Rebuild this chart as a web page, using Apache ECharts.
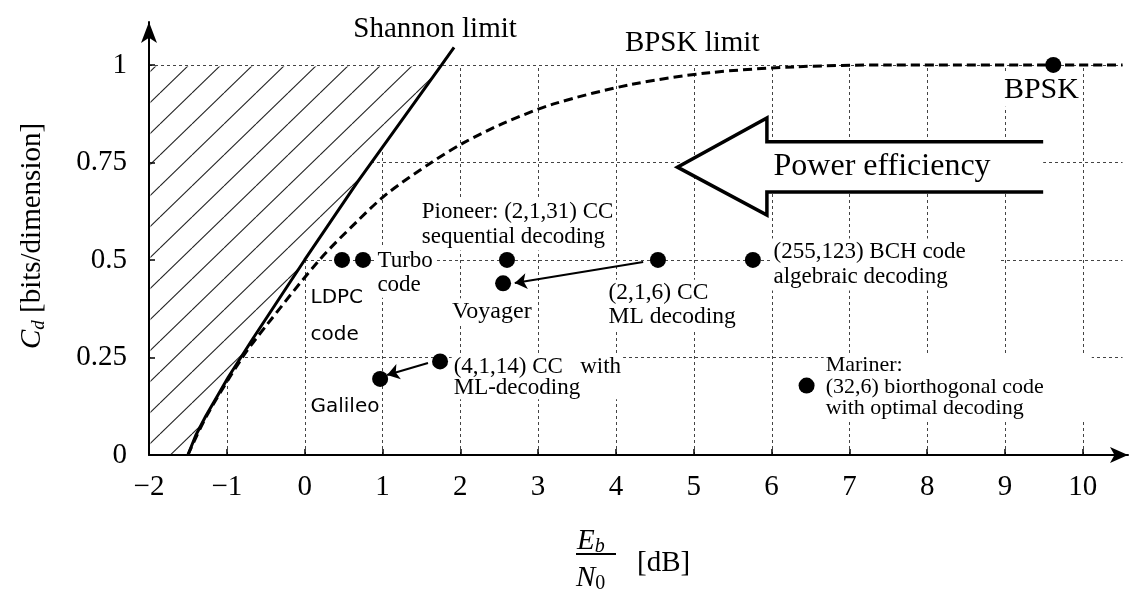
<!DOCTYPE html>
<html>
<head>
<meta charset="utf-8">
<script src="https://cdn.jsdelivr.net/npm/echarts@6/dist/echarts.min.js"></script>
<style>html,body{margin:0;padding:0;background:#fff}#c{width:1138px;height:591px}</style>
</head>
<body>
<div id="c"></div>
<script>
// ---------- data ----------
const xTicks = [-2, -1, 0, 1, 2, 3, 4, 5, 6, 7, 8, 9, 10];
const xTickLabels = ['\u22122', '\u22121', '0', '1', '2', '3', '4', '5', '6', '7', '8', '9', '10'];
const yTicks = [0, 0.25, 0.5, 0.75, 1];
const yTickLabels = ['0', '0.25', '0.5', '0.75', '1'];
const gridXValues = [-1, 0, 1, 2, 3, 4, 5, 6, 7, 8, 9, 10];
const gridYValues = [0.25, 0.5, 0.75, 1];

// Shannon limit
const shannonEbN0 = [-1.50, -1.40, -1.27, -0.98, -0.66, -0.33, 0.00, 0.34, 0.68, 1.04, 1.40, 1.76, 1.92];
const shannonCd   = [0.00, 0.05, 0.10, 0.20, 0.30, 0.40, 0.50, 0.60, 0.70, 0.80, 0.90, 1.00, 1.045];

// BPSK limit
const bpskEbN0 = [-1.50, -1.26, -0.80, -0.50, 0.19, 0.68, 1.06, 1.63, 2.04, 2.55, 3.20, 4.20, 5.20, 6.30, 7.50, 10.51];
const bpskCd   = [0.00, 0.10, 0.25, 0.33, 0.50, 0.60, 0.67, 0.75, 0.80, 0.85, 0.90, 0.95, 0.98, 0.995, 1.00, 1.00];

// coded systems (dots)
const codeNames = ['BPSK', 'LDPC', 'Turbo', 'Pioneer', 'Voyager', '(2,1,6) CC', '(255,123) BCH', '(4,1,14) CC', 'Galileo', 'Mariner'];
const codeEbN0  = [9.62, 0.48, 0.75, 2.60, 2.55, 4.54, 5.76, 1.74, 0.97, 6.45];
const codeCd    = [1.00, 0.50, 0.50, 0.50, 0.44, 0.50, 0.50, 0.24, 0.195, 0.178];

// pointer arrows (from -> to)
const pointerFrom = [[4.35, 0.495], [1.585, 0.236]];
const pointerTo   = [[2.70, 0.441], [1.06, 0.205]];

// big "Power efficiency" arrow outline
const bigArrow = [[9.49, 0.803], [5.94, 0.803], [5.94, 0.864], [4.79, 0.738], [5.94, 0.615], [5.94, 0.674], [9.49, 0.674]];

// annotation texts and anchors
const labelTexts = [
  'Shannon limit', 'BPSK limit', 'BPSK', 'Power efficiency',
  'Pioneer: (2,1,31) CC\nsequential decoding', 'Turbo\ncode', 'LDPC\ncode', 'Voyager',
  '(2,1,6) CC\nML decoding', '(255,123) BCH code\nalgebraic decoding',
  '(4,1,14) CC   with\nML-decoding', 'Galileo',
  'Mariner:\n(32,6) biorthogonal code\nwith optimal decoding'
];
const labelAnchors = [
  [0.60, 1.092], [4.09, 1.054], [8.96, 0.936], [6.00, 0.738],
  [1.48, 0.591], [0.91, 0.467], [0.05, 0.355], [1.87, 0.367],
  [3.88, 0.385], [6.00, 0.488],
  [1.89, 0.199], [0.05, 0.123],
  [6.67, 0.174]
];

// ---------- styling ----------
const SERIF = 'Liberation Serif';
const SANS = 'DejaVu Sans';
// [family, size, lineHeight, rightPadding]
const labelLook = [
  [SERIF, 29, 32, 2], [SERIF, 29, 32, 2], [SERIF, 30, 32, 2], [SERIF, 32, 34, 2],
  [SERIF, 23, 25, 2], [SERIF, 23, 24, 2], [SANS, 20, 37, 2], [SERIF, 24, 25, 2],
  [SERIF, 23.5, 24, 2], [SERIF, 23, 25, 34],
  [SERIF, 23, 21, 2], [SANS, 20, 24, 2],
  [SERIF, 22, 21.5, 48]
];

function makeHatch() {
  const w = 32, h = 31;
  const c = document.createElement('canvas');
  c.width = w; c.height = h;
  const g = c.getContext('2d');
  g.fillStyle = '#fff'; g.fillRect(0, 0, w, h);
  g.strokeStyle = '#222'; g.lineWidth = 1.1;
  for (const dx of [-w, 0, w]) {
    g.beginPath(); g.moveTo(dx, h); g.lineTo(dx + w, 0); g.stroke();
  }
  return c;
}
const hatchTile = makeHatch();

const chart = echarts.init(document.getElementById('c'));

const crisp = v => Math.round(v) + 0.5;

const option = {
  backgroundColor: '#fff',
  animation: false,
  grid: { left: 149, top: 22, width: 979, height: 433 },
  xAxis: {
    type: 'value', min: -2, max: 10.58, interval: 1, z: 10,
    axisLine: { show: true, onZero: false, lineStyle: { color: '#000', width: 2 }, symbol: ['none', 'arrow'], symbolSize: [12, 18] },
    axisTick: { show: true, inside: true, length: 6, lineStyle: { color: '#000', width: 1.5 }, customValues: xTicks },
    axisLabel: {
      customValues: xTicks, margin: 18, color: '#000', fontFamily: SERIF, fontSize: 29,
      formatter: v => { const i = xTicks.indexOf(Math.round(v)); return i >= 0 ? xTickLabels[i] : ''; }
    },
    splitLine: { show: false }
  },
  yAxis: {
    type: 'value', min: 0, max: 1.11, interval: 0.25, z: 10,
    axisLine: { show: true, onZero: false, lineStyle: { color: '#000', width: 2 }, symbol: ['none', 'arrow'], symbolSize: [12, 21] },
    axisTick: { show: true, inside: true, length: 6, lineStyle: { color: '#000', width: 1.5 }, customValues: yTicks },
    axisLabel: {
      customValues: yTicks, margin: 22, color: '#000', fontFamily: SERIF, fontSize: 29,
      formatter: v => { const i = yTicks.findIndex(t => Math.abs(t - v) < 1e-6); return i >= 0 ? yTickLabels[i] : ''; }
    },
    splitLine: { show: false }
  },
  graphic: [
    {
      type: 'text', x: 32, y: 236, rotation: Math.PI / 2,
      style: {
        text: '{c|C}{d|d}{t| [bits/dimension]}', align: 'center', verticalAlign: 'middle',
        rich: {
          c: { fontFamily: SERIF, fontStyle: 'italic', fontSize: 29, fill: '#000' },
          d: { fontFamily: SERIF, fontStyle: 'italic', fontSize: 19, padding: [14, 0, 0, 0], fill: '#000' },
          t: { fontFamily: SERIF, fontSize: 29, fill: '#000' }
        }
      }
    },
    {
      type: 'text', x: 577, y: 541,
      style: {
        text: '{e|E}{b|b}', align: 'left', verticalAlign: 'middle',
        rich: {
          e: { fontFamily: SERIF, fontStyle: 'italic', fontSize: 29, fill: '#000' },
          b: { fontFamily: SERIF, fontStyle: 'italic', fontSize: 20, padding: [12, 0, 0, 0], fill: '#000' }
        }
      }
    },
    { type: 'rect', shape: { x: 576, y: 553, width: 40, height: 2 }, style: { fill: '#000' } },
    {
      type: 'text', x: 576, y: 578,
      style: {
        text: '{e|N}{b|0}', align: 'left', verticalAlign: 'middle',
        rich: {
          e: { fontFamily: SERIF, fontStyle: 'italic', fontSize: 29, fill: '#000' },
          b: { fontFamily: SERIF, fontSize: 20, padding: [12, 0, 0, 0], fill: '#000' }
        }
      }
    },
    {
      type: 'text', x: 637, y: 563,
      style: { text: '[dB]', fontFamily: SERIF, fontSize: 29, fill: '#000', align: 'left', verticalAlign: 'middle' }
    }
  ],
  series: [
    {
      name: 'grid', type: 'custom', z: 1, clip: false, silent: true,
      data: [[0, 0]],
      renderItem: (params, api) => {
        const children = [];
        const style = { stroke: '#444', lineWidth: 1, lineDash: [3, 3], fill: null };
        gridXValues.forEach(x => {
          const a = api.coord([x, 0]), b = api.coord([x, 1]);
          children.push({ type: 'line', shape: { x1: crisp(a[0]), y1: a[1], x2: crisp(b[0]), y2: b[1] }, style });
        });
        gridYValues.forEach(y => {
          const a = api.coord([-2, y]), b = api.coord([10.51, y]);
          children.push({ type: 'line', shape: { x1: a[0], y1: crisp(a[1]), x2: b[0], y2: crisp(b[1]) }, style });
        });
        return { type: 'group', children };
      }
    },
    {
      name: 'hatch', type: 'custom', z: 2, clip: false, silent: true,
      data: [[0, 0]],
      renderItem: (params, api) => {
        const pts = [api.coord([-2, 0])];
        for (let i = 0; i < shannonEbN0.length; i++) {
          if (shannonCd[i] <= 1) pts.push(api.coord([shannonEbN0[i], shannonCd[i]]));
        }
        pts.push(api.coord([-2, 1]));
        pts[0][0] += 1.5;
        const last = pts.length - 1;
        pts[last][0] += 1.5; pts[last][1] += 1.5;
        pts[last - 1][1] += 1.5;
        return { type: 'polygon', shape: { points: pts }, style: { fill: { image: hatchTile, repeat: 'repeat' }, stroke: null } };
      }
    },
    {
      name: 'Shannon limit', type: 'line', z: 3, symbol: 'none', silent: true,
      data: shannonEbN0.map((x, i) => [x, shannonCd[i]]),
      lineStyle: { color: '#000', width: 3 }
    },
    {
      name: 'BPSK limit', type: 'line', z: 3, symbol: 'none', silent: true, smooth: 0.3,
      data: bpskEbN0.map((x, i) => [x, bpskCd[i]]),
      lineStyle: { color: '#000', width: 3, type: [9, 5] }
    },
    {
      name: 'bigArrow', type: 'custom', z: 4, clip: false, silent: true,
      data: [[0, 0]],
      renderItem: (params, api) => {
        const pts = bigArrow.map(p => api.coord(p));
        return {
          type: 'group',
          children: [
            { type: 'polygon', shape: { points: pts }, style: { fill: '#fff', stroke: null } },
            { type: 'polyline', shape: { points: pts }, style: { stroke: '#000', lineWidth: 3.5, fill: null, lineJoin: 'miter' } }
          ]
        };
      }
    },
    {
      name: 'pointers', type: 'lines', coordinateSystem: 'cartesian2d', z: 5, silent: true,
      symbol: ['none', 'arrow'], symbolSize: 12,
      lineStyle: { color: '#000', width: 2, opacity: 1 },
      data: pointerFrom.map((p, i) => ({ coords: [p, pointerTo[i]] }))
    },
    {
      name: 'labels', type: 'scatter', z: 6, silent: true,
      symbolSize: 0.1, itemStyle: { color: 'rgba(0,0,0,0)', opacity: 1 },
      data: labelTexts.map((t, i) => ({
        value: labelAnchors[i],
        label: {
          show: true, formatter: t, position: [0, 0], align: 'left', verticalAlign: 'middle',
          fontFamily: labelLook[i][0], fontSize: labelLook[i][1], lineHeight: labelLook[i][2],
          color: '#000', opacity: 1, backgroundColor: '#fff', padding: [1, labelLook[i][3], 1, 2]
        }
      }))
    },
    {
      name: 'codes', type: 'scatter', z: 7, silent: true,
      symbolSize: 16, itemStyle: { color: '#000', opacity: 1 },
      data: codeEbN0.map((x, i) => ({ name: codeNames[i], value: [x, codeCd[i]] }))
    }
  ]
};
chart.setOption(option);
</script>
</body>
</html>
